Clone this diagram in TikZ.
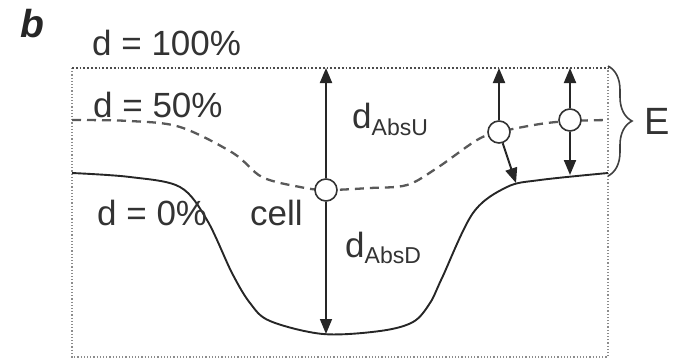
\documentclass[tikz,border=0pt]{standalone}
\usepackage{fontspec}
\setmainfont{Liberation Sans}
\usetikzlibrary{arrows.meta,decorations.pathreplacing}
\begin{document}
\begin{tikzpicture}[x=1pt,y=-1pt,
  lbl/.style={anchor=base west,inner sep=0pt,text=black!80,font=\fontsize{35}{38}\selectfont},
  arr/.style={draw=black!85,line width=2pt,-{Triangle[length=15pt,width=12pt]}},
  dot/.style={circle,draw=black!80,line width=1.6pt,fill=white,minimum size=22pt,inner sep=0pt},
  boxline/.style={draw=black!45,line width=1.2pt,dotted},
  dashline/.style={draw=black!65,line width=2.3pt,dash pattern=on 9pt off 6pt},
  solidline/.style={draw=black!85,line width=1.9pt}]
\useasboundingbox (0,0) rectangle (680,360);
% frame
\draw[boxline] (72,68) -- (72,357) -- (608,357) -- (608,68);
\draw[draw=black!70,line width=1.8pt,dotted] (72,68) -- (608,68);
% solid (d = 0%) curve
\draw[solidline] plot[smooth,tension=0.55] coordinates{(72,173) (130,177) (180,187) (207,220) (232,273) (250,303) (270,321) (323,334) (380,331) (413,322) (430,303) (442,278) (473,213) (507,187) (540,180) (608,173)};
% dashed (d = 50%) curve
\draw[dashline] plot[smooth,tension=0.55] coordinates{(72,120) (130,121) (180,127) (233,153) (262,177) (300,187) (326,190) (370,188) (407,185) (437,168) (477,140) (499,132) (540,124) (570,121) (608,120)};
% points
\node[dot] (cellc) at (326,190) {};
\node[dot] (c2) at (499,132) {};
\node[dot] (c3) at (570,120) {};
\coordinate (t1) at (326,68);
\coordinate (b1) at (326,334);
\coordinate (t2) at (499,68);
\coordinate (b2) at (516,183);
\coordinate (t3) at (570,68);
\coordinate (b3) at (570,175);
\draw[arr] (cellc) -- (t1);
\draw[arr,line width=1.6pt] (cellc) -- (b1);
\draw[arr] (c2) -- (t2);
\draw[arr] (c2) -- (b2);
\draw[arr] (c3) -- (t3);
\draw[arr] (c3) -- (b3);
% brace
\coordinate (bt) at (608,66);
\coordinate (bb) at (608,176);
\draw[draw=black!75,line width=1.6pt,decorate,decoration={brace,amplitude=24pt}] (bt) -- (bb);
% labels
\node[anchor=center,inner sep=0pt,text=black!85,font=\fontsize{39}{42}\selectfont\bfseries\itshape] (lb) at (32,24) {b};
\node[lbl] (l100) at (92,55) {d = 100\%};
\node[lbl] (l50) at (93,117) {d = 50\%};
\node[lbl] (l0) at (97,225) {d = 0\%};
\node[lbl] (lcell) at (250,225) {cell};
\node[lbl] (lu) at (352,128) {d\raisebox{-7pt}{\fontsize{23}{25}\selectfont AbsU}};
\node[lbl] (ld) at (345,257) {d\raisebox{-6pt}{\fontsize{23}{25}\selectfont AbsD}};
\node[lbl,font=\fontsize{38}{40}\selectfont] (le) at (644,134) {E};
\end{tikzpicture}
\end{document}
